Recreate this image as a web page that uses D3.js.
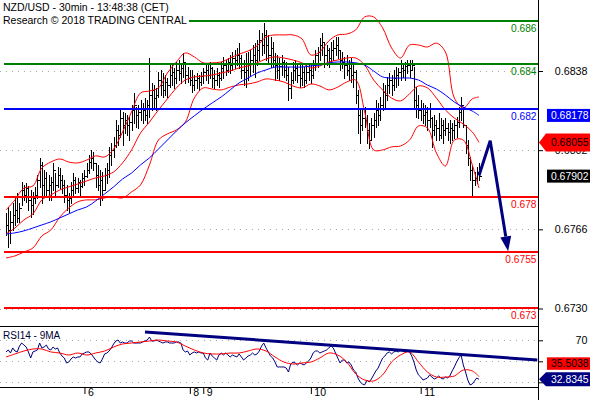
<!DOCTYPE html>
<html><head><meta charset="utf-8">
<script src="https://cdn.jsdelivr.net/npm/d3@7"></script>
<style>
html,body{margin:0;padding:0;background:#fff;}
svg{display:block;font-family:"Liberation Sans",Arial,sans-serif;}
</style></head><body>
<svg id="c" width="590" height="400"></svg>
<script>
// ---------- DATA (30-min bars, NZD/USD) ----------
const high = [
0.67735,0.67762,0.67744,0.67780,0.67812,0.67825,0.67780,0.67875,0.67862,0.67871,
0.67857,0.67839,0.67830,0.67853,0.67907,0.67985,0.67966,0.67930,0.67921,0.67907,
0.67898,0.67962,0.67916,0.67944,0.67939,0.67907,0.67885,0.67862,0.67825,0.67875,
0.67916,0.67898,0.67894,0.67885,0.67916,0.67930,0.67962,0.67998,0.68021,0.68012,
0.67962,0.67953,0.67930,0.67921,0.67939,0.67962,0.68035,0.68053,0.68080,0.68157,
0.68135,0.68203,0.68194,0.68189,
0.68180,0.68171,0.68226,0.68280,0.68217,0.68226,
0.68248,0.68235,0.68257,0.68248,0.68439,0.68326,0.68317,0.68303,0.68376,0.68385,
0.68371,0.68362,0.68348,0.68407,0.68417,0.68394,0.68421,0.68430,0.68407,0.68462,
0.68407,0.68398,0.68385,0.68385,0.68362,0.68371,0.68362,0.68376,0.68394,0.68417,
0.68407,0.68421,0.68398,0.68385,0.68394,0.68376,0.68421,0.68444,0.68430,0.68439,
0.68453,0.68467,0.68476,0.68485,0.68507,0.68453,0.68430,
0.68462,0.68467,0.68476,
0.68498,0.68507,0.68521,0.68567,0.68553,0.68598,0.68567,0.68544,0.68535,0.68512,
0.68462,0.68453,0.68439,0.68453,0.68430,0.68421,0.68398,0.68376,0.68421,0.68430,
0.68417,0.68407,0.68417,0.68398,0.68407,0.68417,0.68407,0.68430,0.68476,0.68489,
0.68530,0.68553,0.68507,0.68498,0.68485,0.68512,0.68521,0.68535,0.68535,0.68476,
0.68467,0.68444,0.68453,0.68430,0.68439,0.68417,0.68385,0.68294,0.68203,0.68212,
0.68217,0.68180,0.68144,0.68166,0.68189,0.68248,0.68235,0.68262,0.68326,0.68317,
0.68353,0.68371,0.68362,0.68385,0.68398,0.68394,0.68430,0.68417,0.68421,0.68430,
0.68430,0.68430,0.68398,0.68307,0.68271,0.68248,0.68235,0.68226,0.68217,0.68235,
0.68171,0.68180,0.68157,0.68189,0.68166,0.68157,0.68166,0.68144,0.68157,0.68144,
0.68157,0.68171,0.68217,0.68262,0.68217,0.68135,0.68066,0.67989,0.67953,0.67921,
0.67944,0.67962];
const low = [
0.67635,0.67580,0.67598,0.67657,0.67680,0.67694,0.67694,0.67771,0.67794,0.67785,
0.67748,0.67716,0.67730,0.67780,0.67803,0.67853,0.67780,0.67807,0.67816,0.67794,
0.67794,0.67839,0.67807,0.67853,0.67848,0.67825,0.67785,0.67748,0.67739,0.67780,
0.67807,0.67825,0.67830,0.67816,0.67853,0.67862,0.67898,0.67916,0.67939,0.67930,
0.67853,0.67839,0.67771,0.67794,0.67839,0.67871,0.67898,0.67953,0.67989,0.68035,
0.68044,0.68080,0.68044,0.68098,
0.68089,0.68066,0.68112,0.68144,0.68126,0.68121,
0.68157,0.68144,0.68157,0.68144,0.68171,0.68203,0.68212,0.68203,0.68262,0.68271,
0.68262,0.68271,0.68262,0.68307,0.68317,0.68303,0.68326,0.68339,0.68326,0.68353,
0.68326,0.68330,0.68317,0.68285,0.68294,0.68303,0.68294,0.68317,0.68326,0.68339,
0.68326,0.68348,0.68307,0.68303,0.68317,0.68307,0.68339,0.68348,0.68362,0.68376,
0.68371,0.68385,0.68394,0.68407,0.68394,0.68348,0.68317,
0.68307,0.68339,0.68362,
0.68376,0.68353,0.68407,0.68430,0.68453,0.68462,0.68430,0.68421,0.68398,0.68398,
0.68339,0.68348,0.68339,0.68362,0.68353,0.68339,0.68248,0.68257,0.68326,0.68339,
0.68330,0.68307,0.68317,0.68307,0.68326,0.68339,0.68326,0.68348,0.68385,0.68398,
0.68430,0.68453,0.68398,0.68407,0.68398,0.68421,0.68430,0.68453,0.68439,0.68385,
0.68394,0.68348,0.68362,0.68339,0.68330,0.68307,0.68235,0.68098,0.68053,0.68112,
0.68126,0.68053,0.68030,0.68066,0.68080,0.68126,0.68135,0.68157,0.68203,0.68217,
0.68248,0.68280,0.68271,0.68294,0.68307,0.68317,0.68339,0.68353,0.68339,0.68371,
0.68353,0.68385,0.68217,0.68171,0.68166,0.68157,0.68144,0.68135,0.68112,0.68126,
0.68035,0.68089,0.68066,0.68066,0.68076,0.68053,0.68089,0.68066,0.68053,0.68066,
0.68076,0.68080,0.68126,0.68157,0.68126,0.68007,0.67953,0.67885,0.67807,0.67862,
0.67871,0.67885];
const close = [
0.67680,0.67657,0.67694,0.67725,0.67748,0.67712,0.67757,0.67839,0.67816,0.67848,
0.67794,0.67771,0.67803,0.67816,0.67885,0.67953,0.67862,0.67894,0.67839,0.67862,
0.67875,0.67930,0.67862,0.67907,0.67885,0.67862,0.67816,0.67794,0.67803,0.67839,
0.67885,0.67848,0.67875,0.67857,0.67894,0.67903,0.67930,0.67966,0.67985,0.67962,
0.67907,0.67862,0.67885,0.67839,0.67907,0.67930,0.67998,0.68021,0.68044,0.68112,
0.68089,0.68166,0.68135,0.68157,
0.68135,0.68148,0.68203,0.68226,0.68180,0.68194,
0.68212,0.68203,0.68180,0.68226,0.68271,0.68294,0.68257,0.68271,0.68339,0.68317,
0.68294,0.68330,0.68317,0.68362,0.68376,0.68348,0.68385,0.68371,0.68394,0.68421,
0.68362,0.68348,0.68339,0.68317,0.68339,0.68348,0.68330,0.68357,0.68376,0.68385,
0.68362,0.68394,0.68348,0.68339,0.68362,0.68348,0.68394,0.68407,0.68385,0.68421,
0.68407,0.68439,0.68430,0.68453,0.68439,0.68385,0.68376,
0.68385,0.68407,0.68430,
0.68453,0.68430,0.68476,0.68521,0.68498,0.68544,0.68498,0.68453,0.68485,0.68430,
0.68407,0.68385,0.68403,0.68421,0.68385,0.68362,0.68303,0.68339,0.68385,0.68394,
0.68362,0.68348,0.68376,0.68339,0.68376,0.68385,0.68362,0.68407,0.68453,0.68467,
0.68498,0.68512,0.68453,0.68476,0.68439,0.68476,0.68485,0.68498,0.68476,0.68430,
0.68421,0.68407,0.68385,0.68394,0.68362,0.68376,0.68271,0.68180,0.68135,0.68166,
0.68157,0.68112,0.68066,0.68135,0.68157,0.68203,0.68180,0.68226,0.68285,0.68271,
0.68317,0.68339,0.68317,0.68348,0.68362,0.68376,0.68394,0.68385,0.68403,0.68407,
0.68385,0.68407,0.68248,0.68226,0.68203,0.68212,0.68180,0.68194,0.68157,0.68166,
0.68112,0.68135,0.68121,0.68089,0.68135,0.68112,0.68121,0.68103,0.68121,0.68112,
0.68135,0.68148,0.68194,0.68226,0.68135,0.68044,0.67985,0.67930,0.67885,0.67894,
0.67921,0.67902];

// smoothed overlays, one value every `smoothStep` bars (last one = last bar)
const smoothStep = 4;
const bandUpper = [
0.67748,0.67794,0.67848,0.67857,0.67939,0.67966,0.67980,0.67966,0.67962,0.67975,
0.67994,0.67989,0.68025,0.68103,0.68194,0.68280,0.68289,0.68303,0.68371,0.68421,
0.68462,0.68444,0.68417,0.68417,0.68421,0.68439,0.68457,0.68471,0.68494,0.68535,
0.68544,0.68544,0.68544,0.68526,0.68453,0.68467,0.68517,0.68544,0.68548,0.68567,
0.68626,0.68626,0.68576,0.68485,0.68439,0.68498,0.68498,0.68489,0.68507,0.68467,
0.68257,0.68212,0.68253,0.68262];
const bandMiddle = [
0.67639,0.67666,0.67703,0.67730,0.67794,0.67816,0.67839,0.67853,0.67866,0.67880,
0.67894,0.67903,0.67921,0.67962,0.68021,0.68098,0.68148,0.68203,0.68253,0.68303,
0.68339,0.68353,0.68357,0.68362,0.68371,0.68380,0.68394,0.68403,0.68417,0.68435,
0.68444,0.68439,0.68430,0.68417,0.68394,0.68403,0.68421,0.68430,0.68439,0.68439,
0.68407,0.68339,0.68294,0.68257,0.68244,0.68276,0.68312,0.68303,0.68257,0.68203,
0.68166,0.68139,0.68103,0.68055];
const bandLower = [
0.67530,0.67539,0.67557,0.67575,0.67630,0.67657,0.67716,0.67757,0.67785,0.67794,
0.67794,0.67803,0.67807,0.67803,0.67830,0.67862,0.67953,0.68066,0.68094,0.68112,
0.68148,0.68257,0.68303,0.68298,0.68294,0.68307,0.68317,0.68321,0.68330,0.68344,
0.68339,0.68330,0.68312,0.68303,0.68321,0.68312,0.68294,0.68307,0.68330,0.68339,
0.68194,0.68021,0.68021,0.68035,0.68039,0.68066,0.68130,0.68121,0.68007,0.67948,
0.68066,0.68066,0.67953,0.67848];
const maBlue = [
0.67639,0.67644,0.67653,0.67666,0.67680,0.67694,0.67712,0.67730,0.67748,0.67762,
0.67789,0.67821,0.67853,0.67889,0.67916,0.67953,0.67985,0.68025,0.68066,0.68107,
0.68144,0.68176,0.68207,0.68235,0.68262,0.68294,0.68326,0.68348,0.68371,0.68385,
0.68398,0.68398,0.68398,0.68398,0.68403,0.68407,0.68417,0.68421,0.68421,0.68417,
0.68407,0.68380,0.68353,0.68348,0.68348,0.68348,0.68339,0.68316,0.68298,0.68271,
0.68239,0.68216,0.68198,0.68178];

const rsi = [
58.9,60.8,57.9,62.7,59.8,58.9,64.5,67.4,65.5,63.6,
58.9,53.1,58.9,59.8,60.8,67.4,62.7,63.6,65.5,61.7,
60.8,63.6,61.7,62.7,57.9,55.0,53.1,48.4,49.3,52.2,
54.1,53.1,54.1,54.1,57.0,57.9,58.9,58.9,57.0,54.1,
51.2,49.3,48.4,52.2,57.0,57.9,59.8,62.7,66.5,69.3,
70.3,67.4,68.4,67.4,67.4,69.3,69.3,67.4,67.4,67.4,
67.4,68.4,69.3,70.3,73.1,69.3,69.3,70.3,69.3,68.4,
67.4,68.4,68.4,67.4,67.4,67.4,68.4,68.4,67.4,60.8,
58.9,59.8,56.0,57.9,58.9,57.9,58.9,57.9,57.9,53.1,
51.2,57.9,55.0,53.1,51.2,56.0,57.9,56.0,57.9,56.0,
54.1,56.0,55.0,54.1,57.0,54.1,51.2,53.1,55.0,56.0,
57.9,56.0,57.0,59.8,64.5,67.4,62.7,58.9,55.0,53.1,
49.3,44.6,44.6,44.6,44.6,43.6,39.8,47.4,49.3,48.4,
46.5,48.4,47.4,46.5,48.4,50.3,53.1,57.9,59.8,59.8,
57.9,58.9,59.8,60.8,62.7,64.5,62.7,57.9,53.1,48.4,
51.2,51.2,48.4,49.3,46.5,41.7,39.8,34.1,30.3,28.4,
27.5,32.2,30.3,33.1,37.0,40.8,43.6,48.4,53.1,55.0,
57.9,58.9,57.0,58.9,59.8,58.9,60.8,59.8,58.9,60.8,
58.9,55.0,49.3,41.7,37.0,35.0,32.2,33.1,34.1,37.0,
35.0,33.1,34.1,36.0,34.1,33.1,35.0,34.1,36.0,40.8,
44.6,49.3,53.1,56.0,46.5,39.8,32.2,27.5,28.4,31.3,
34.1,32.8345];
const rsiMA = [
54.1,57.0,59.8,61.7,61.7,58.9,57.9,56.0,57.9,56.0,
57.9,59.8,63.6,66.5,67.4,68.4,69.3,70.3,69.3,68.4,
64.5,60.8,57.9,57.0,57.0,57.9,57.9,59.8,61.7,59.8,
54.1,49.3,47.4,48.4,49.3,53.1,57.9,56.0,49.3,38.0,
32.2,31.3,37.0,49.3,56.0,58.9,49.3,39.8,35.0,35.0,
36.0,41.7,40.8,35.5038];

// key levels (support / resistance)
const levels      = [0.68609, 0.68411, 0.68206, 0.67806, 0.67556, 0.67301];
const levelLabels = ["0.686", "0.684", "0.682", "0.678", "0.6755", "0.673"];
const levelKinds  = ["res", "res", "pivot", "sup", "sup", "sup"];

// scenario arrow (bar index, price)
const arrowIndex = [211, 216, 224];
const arrowPrice = [0.67905, 0.68063, 0.67560];

// RSI trend line (bar index, RSI)
const rsiTrendIndex = [62, 237];
const rsiTrendValue = [78.0, 51.2];

// axes
const priceTicks = [0.6838, 0.6802, 0.6766, 0.6730];
const priceTickLabels = ["0.6838", "0.6802", "0.6766", "0.6730"];
const rsiTicks = [70, 50, 30];
const rsiTickLabels = ["70", "50", "30"];
const dayTickIndex = [35, 82, 88, 136, 185];
const dayTickLabels = ["6", "8", "9", "10", "11"];
const titleLines = ["NZD/USD - 30min - 13:48:38 (CET)", "Research \u00A9 2018 TRADING CENTRAL"];
const rsiTitle = "RSI14 - 9MA";

// ---------- DRAWING ----------
const W = 590, H = 400, axisX = 538, mainBottom = 326, rsiBottom = 387;
const svg = d3.select("#c");
const n = high.length;
const x = d3.scaleLinear().domain([0, n - 1]).range([6, 479]);
const y = d3.scaleLinear().domain([0.6730, 0.6838]).range([308.5, 71]);
const yr = d3.scaleLinear().domain([30, 70]).range([382.3, 340.3]);
const sx = (j) => x(Math.min(j * smoothStep, n - 1));
const kindColor = {res: "#008000", pivot: "#0000ff", sup: "#ff0000"};
const px = v => Math.round(v) + 0.5;

const defs = svg.append("defs");
defs.append("clipPath").attr("id", "mc").append("rect").attr("x", 0).attr("y", 0).attr("width", axisX).attr("height", mainBottom);
defs.append("clipPath").attr("id", "rc").append("rect").attr("x", 0).attr("y", mainBottom + 1).attr("width", axisX).attr("height", rsiBottom - mainBottom - 1);

const main = svg.append("g").attr("clip-path", "url(#mc)");
// grid
main.append("g").selectAll("line").data(priceTicks).join("line")
  .attr("x1", 0).attr("x2", axisX - 2).attr("y1", d => px(y(d))).attr("y2", d => px(y(d)))
  .attr("stroke", "#a8a8a8").attr("stroke-dasharray", "1,5").attr("shape-rendering", "crispEdges");

// bars
const bars = main.append("g").attr("stroke", "#000").attr("shape-rendering", "crispEdges");
bars.selectAll("line.hl").data(high).join("line").attr("class", "hl")
  .attr("x1", (d, i) => px(x(i))).attr("x2", (d, i) => px(x(i)))
  .attr("y1", d => Math.round(y(d))).attr("y2", (d, i) => Math.round(y(low[i])) + 1);
bars.selectAll("line.cl").data(close).join("line").attr("class", "cl")
  .attr("x1", (d, i) => Math.round(x(i)) + 1).attr("x2", (d, i) => Math.round(x(i)) + 3)
  .attr("y1", d => px(y(d))).attr("y2", d => px(y(d)));

// bands & MA
const sLine = d3.line().x((d, j) => sx(j)).y(d => y(d)).curve(d3.curveCatmullRom.alpha(0.5));
[bandUpper, bandMiddle, bandLower].forEach(arr =>
  main.append("path").attr("d", sLine(arr)).attr("fill", "none").attr("stroke", "#ff0000").attr("stroke-width", 1));
main.append("path").attr("d", sLine(maBlue)).attr("fill", "none").attr("stroke", "#0000ff").attr("stroke-width", 1);

// levels
levels.forEach((lv, k) => {
  const yy = Math.round(y(lv));
  main.append("line").attr("x1", 4).attr("x2", axisX).attr("y1", yy).attr("y2", yy)
    .attr("stroke", kindColor[levelKinds[k]]).attr("stroke-width", 2).attr("shape-rendering", "crispEdges");
  main.append("text").attr("x", 536.5).attr("y", yy + 11).attr("text-anchor", "end")
    .attr("font-size", 10.2).attr("fill", kindColor[levelKinds[k]]).text(levelLabels[k]);
});

// title with white background
const tg = svg.append("g");
const tbg = tg.append("rect").attr("fill", "#fff");
titleLines.forEach((t, k) => tg.append("text").attr("x", 3).attr("y", 11 + k * 12.5)
  .attr("font-size", 10.5).attr("fill", "#000").text(t));
const bb = tg.node().getBBox();
tbg.attr("x", 0).attr("y", 0).attr("width", bb.x + bb.width + 2).attr("height", 26);

// scenario arrow
const ap = arrowIndex.map((d, k) => [x(d), y(arrowPrice[k])]);
const a1 = ap[ap.length - 2], a2 = ap[ap.length - 1];
const dx = a2[0] - a1[0], dy = a2[1] - a1[1], L = Math.hypot(dx, dy), ux = dx / L, uy = dy / L;
const headLen = 15, headW = 5.5;
const base = [a2[0] - ux * headLen, a2[1] - uy * headLen];
const lineP = ap.slice(0, -1).concat([base]);
svg.append("path").attr("d", d3.line()(lineP)).attr("fill", "none").attr("stroke", "#000080").attr("stroke-width", 3).attr("stroke-linejoin", "miter");
svg.append("path").attr("d", `M${a2[0]},${a2[1]} L${base[0] - uy * headW},${base[1] + ux * headW} L${base[0] + uy * headW},${base[1] - ux * headW} Z`).attr("fill", "#000080");

// ----- RSI panel -----
const rp = svg.append("g").attr("clip-path", "url(#rc)");
rp.append("g").selectAll("line").data(rsiTicks).join("line")
  .attr("x1", 0).attr("x2", axisX - 2).attr("y1", d => px(yr(d))).attr("y2", d => px(yr(d)))
  .attr("stroke", "#a8a8a8").attr("stroke-dasharray", "1,5").attr("shape-rendering", "crispEdges");
rp.append("path").attr("d", d3.line().x((d, i) => x(i)).y(d => yr(d))(rsi))
  .attr("fill", "none").attr("stroke", "#000080").attr("stroke-width", 1);
rp.append("path").attr("d", d3.line().x((d, j) => sx(j)).y(d => yr(d)).curve(d3.curveCatmullRom.alpha(0.5))(rsiMA))
  .attr("fill", "none").attr("stroke", "#ff0000").attr("stroke-width", 1);
rp.append("path").attr("d", d3.line()(rsiTrendIndex.map((d, k) => [x(d), yr(rsiTrendValue[k])])))
  .attr("fill", "none").attr("stroke", "#000080").attr("stroke-width", 3);
rp.append("text").attr("x", 3).attr("y", 338.5).attr("font-size", 10).attr("fill", "#000033").text(rsiTitle);

// frame lines
const frame = svg.append("g").attr("stroke", "#000").attr("shape-rendering", "crispEdges");
frame.append("line").attr("x1", 0).attr("x2", axisX).attr("y1", mainBottom + 0.5).attr("y2", mainBottom + 0.5);
frame.append("line").attr("x1", 0).attr("x2", axisX).attr("y1", rsiBottom + 0.5).attr("y2", rsiBottom + 0.5);
frame.append("line").attr("x1", axisX + 0.5).attr("x2", axisX + 0.5).attr("y1", 0).attr("y2", H);

// value boxes (computed first so covered axis labels can be hidden, as the original does)
const lastMA = maBlue[maBlue.length - 1], lastMid = bandMiddle[bandMiddle.length - 1], lastClose = close[n - 1];
const lastRSI = rsi[rsi.length - 1], lastRSIMA = rsiMA[rsiMA.length - 1];
const yRsi = yr(lastRSI), hRsi = 14, hMA = 12.5;
let yMA = yr(lastRSIMA);
if (Math.abs(yMA - yRsi) < (hRsi + hMA) / 2 + 2) yMA = yRsi - (hRsi + hMA) / 2 - 2.5;
const boxes = [
  {yc: y(lastMA), h: 13, fill: "#0000ff", txt: d3.format(".5f")(lastMA), color: "#fff", pointer: false},
  {yc: y(lastMid), h: 18, fill: "#ff0000", txt: d3.format(".5f")(lastMid), color: "#000", pointer: true},
  {yc: y(lastClose), h: 13, fill: "#000", txt: d3.format(".5f")(lastClose), color: "#fff", pointer: false},
  {yc: yMA, h: hMA, fill: "#ff0000", txt: d3.format(".4f")(lastRSIMA), color: "#000", pointer: false},
  {yc: yRsi, h: hRsi, fill: "#000080", txt: d3.format(".4f")(lastRSI), color: "#fff", pointer: true}
];
function covered(yc) {
  const t0 = yc - 5, t1 = yc + 5;
  return boxes.some(b => {
    const ov = Math.min(t1, b.yc + b.h / 2) - Math.max(t0, b.yc - b.h / 2);
    return ov > 6;
  });
}

// right axes
const ra = svg.append("g").attr("transform", `translate(${axisX + 1},0)`);
const yAxis = d3.axisRight(y).tickValues(priceTicks).tickSize(4).tickPadding(12).tickFormat((d, k) => priceTickLabels[k]);
const rAxis = d3.axisRight(yr).tickValues(rsiTicks).tickSize(4).tickPadding(12).tickFormat((d, k) => covered(yr(d)) ? "" : rsiTickLabels[k]);
[yAxis, rAxis].forEach(ax => {
  const g = ra.append("g").call(ax);
  g.select(".domain").remove();
  g.selectAll("line").attr("stroke", "#000");
  g.selectAll("text").attr("font-size", 10.7).attr("font-family", "Liberation Sans, Arial, sans-serif")
    .attr("text-anchor", "end").attr("x", 48.5).attr("fill", "#000");
});

// bottom axis (days)
const xa = svg.append("g").attr("transform", `translate(0,${rsiBottom + 1})`);
const xAxis = d3.axisBottom(x).tickValues(dayTickIndex).tickSize(6).tickFormat((d, k) => dayTickLabels[k]);
const gx = xa.call(xAxis);
gx.select(".domain").remove();
gx.selectAll(".tick line").attr("stroke", "#000");
gx.selectAll(".tick text").attr("font-size", 10.5).attr("font-family", "Liberation Sans, Arial, sans-serif")
  .attr("text-anchor", "start").attr("x", 3).attr("y", 1).attr("dy", "0.71em").attr("fill", "#000");

// draw value boxes
boxes.forEach(b => {
  const {yc, h, fill, txt, color, pointer} = b;
  if (pointer) {
    svg.append("path").attr("d", `M${axisX + 1},${yc} L546,${yc - h / 2} L${W},${yc - h / 2} L${W},${yc + h / 2} L546,${yc + h / 2} Z`).attr("fill", fill);
  } else {
    svg.append("rect").attr("x", 547).attr("y", yc - h / 2).attr("width", W - 547).attr("height", h).attr("fill", fill);
  }
  svg.append("text").attr("x", 588.5).attr("y", yc).attr("dy", "0.36em").attr("text-anchor", "end")
    .attr("font-size", 10.4).attr("fill", color).text(txt);
});
</script>
</body></html>
